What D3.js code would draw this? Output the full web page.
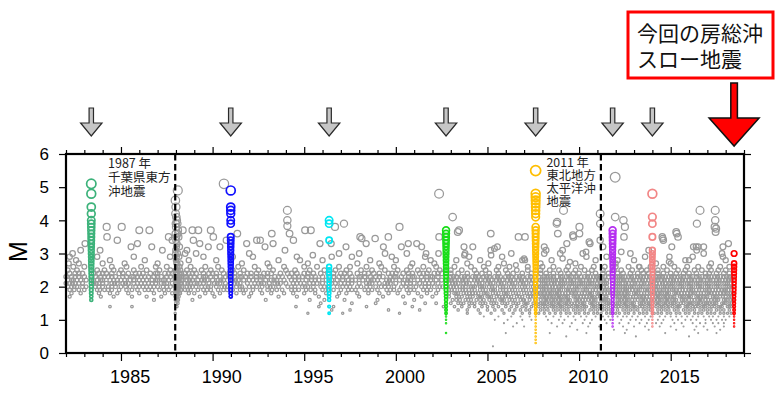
<!DOCTYPE html>
<html><head><meta charset="utf-8">
<script src="https://cdn.jsdelivr.net/npm/d3@7"></script>
<style>body{margin:0;background:#fff}svg{display:block}</style>
</head><body><svg id="c" width="780" height="399"></svg>
<script>
// ---- data ----
const sseYears = [1983.38, 1990.99, 1996.36, 2002.74, 2007.63, 2011.83, 2014.00];
const currentSSE = 2018.46;
const quakeYears = [1987.96, 2011.19];
const xTickYears = [1985, 1990, 1995, 2000, 2005, 2010, 2015];
const yTicks = [0, 1, 2, 3, 4, 5, 6];

const colYears = [1983.38, 1990.99, 1996.36, 2002.74, 2007.63, 2011.83, 2014.00, 2018.46];
const colColors = ["#3cb27a", "#1010ff", "#00e6f2", "#18dd18", "#ffbe00", "#b52ff0", "#f28686", "#ff0000"];
const colMags = [
  [5.1,4.8,4.4,4.2,4.0,3.9,3.8,3.7,3.6,3.5,3.4,3.3,3.2,3.1,3.0,2.9,2.8,2.7,2.6,2.5,2.4,2.3,2.2,2.1,2.0,1.9,1.8,1.7,1.6],
  [4.9,4.4,4.3,4.2,4.0,3.9,3.5,3.4,3.3,3.2,3.1,3.0,2.9,2.8,2.7,2.6,2.5,2.4,2.3,2.2,2.1,2.0,1.9,1.8,1.7],
  [4.0,3.9,3.4,2.6,2.5,2.4,2.3,2.2,2.1,2.0,1.9,1.8,1.7,1.6,1.4,1.2],
  [3.7,3.6,3.5,3.4,3.3,3.2,3.1,3.0,2.9,2.8,2.7,2.6,2.5,2.4,2.3,2.2,2.1,2.0,1.9,1.8,1.7,1.6,1.5,1.4,1.3,1.2,1.1,1.0,0.9,0.6],
  [5.5,4.8,4.7,4.6,4.5,4.4,4.3,4.2,4.1,3.8,3.7,3.6,3.5,3.4,3.3,3.2,3.1,3.0,2.9,2.8,2.7,2.6,2.5,2.4,2.3,2.2,2.1,2.0,1.9,1.8,1.7,1.6,1.5,1.4,1.3,1.2,1.1,1.0,0.9,0.8,0.7,0.6,0.5,0.4,0.3],
  [3.7,3.6,3.5,3.4,3.3,3.2,3.1,3.0,2.9,2.8,2.7,2.6,2.5,2.4,2.3,2.2,2.1,2.0,1.9,1.8,1.7,1.6,1.5,1.4,1.3,1.2,1.1,1.0,0.9,0.8],
  [4.8,4.1,3.9,3.5,3.1,3.0,2.9,2.8,2.7,2.6,2.5,2.4,2.3,2.2,2.1,2.0,1.9,1.8,1.7,1.6,1.5,1.4,1.3,1.2,1.1,1.0,0.9,0.8],
  [3.0,2.7,2.6,2.5,2.4,2.3,2.2,2.1,2.0,1.9,1.8,1.7,1.6,1.5,1.4,1.3,1.2,1.1,1.0,0.9,0.8]
];

// larger scattered gray events [year, M]
const grayScatter = [
  [1982.2,2.9],[1982.36,3.0],[1982.55,2.8],[1982.8,3.1],[1983.04,3.3],[1982.7,2.7],[1982.15,2.7],
  [1983.86,3.1],[1984.24,3.5],[1984.22,3.8],[1984.8,3.4],[1985.04,3.8],[1984.4,2.8],[1985.55,3.2],[1985.9,3.3],
  [1986.0,3.7],[1986.55,3.7],[1986.68,3.2],[1987.26,3.1],[1987.68,2.9],[1987.6,3.5],[1984.0,2.7],[1985.2,2.7],
  [1986.3,2.8],[1983.7,2.9],[1987.0,2.7],[1985.7,2.9],
  [1988.1,4.9],[1987.97,4.6],[1988.0,4.4],[1987.98,4.2],[1988.02,4.1],[1988.05,4.0],[1987.99,3.9],[1988.08,3.9],
  [1988.0,3.8],[1988.12,3.7],[1987.97,3.6],[1988.03,3.5],[1988.15,3.5],[1988.0,3.4],[1988.06,3.3],[1988.2,3.2],
  [1987.98,3.1],[1988.1,3.0],[1988.04,2.9],[1988.18,2.9],[1988.0,2.8],[1988.08,2.7],[1988.25,2.7],[1987.97,3.0],
  [1988.03,3.2],[1988.1,3.6],[1988.02,2.7],[1987.8,3.4],
  [1988.37,3.7],[1988.9,3.7],[1989.22,3.7],[1988.95,3.4],[1988.6,3.1],[1989.3,3.3],[1989.77,3.2],[1989.9,3.7],
  [1990.04,3.5],[1989.5,2.9],[1990.62,5.1],[1990.4,3.2],[1991.35,3.6],[1991.86,3.3],[1992.41,3.4],[1992.2,2.9],
  [1988.7,2.8],[1989.1,3.0],[1990.2,2.8],[1991.1,2.9],[1991.6,2.7],[1992.0,3.0],[1990.75,3.4],[1988.5,3.0],
  [1994.08,4.3],[1994.08,4.0],[1994.08,3.83],[1994.2,3.6],[1994.41,3.4],[1993.95,3.1],[1993.23,3.6],[1993.3,3.3],
  [1992.86,3.2],[1992.6,3.4],[1995.05,3.7],[1995.36,3.7],[1994.77,2.8],[1995.86,3.3],[1995.47,2.95],[1996.68,3.8],
  [1997.17,3.9],[1997.28,3.2],[1996.47,3.3],[1996.5,2.9],[1998.05,3.5],[1998.14,3.45],[1998.38,3.3],[1998.87,3.45],
  [1998.0,3.0],[1999.32,3.2],[1999.59,3.5],[1999.41,3.0],[1999.78,2.9],[2000.2,3.8],[2000.3,3.2],[2000.68,3.3],
  [2001.14,3.3],[2001.41,3.2],[2000.6,3.0],[2001.6,2.9],[2002.36,4.8],[2003.1,4.1],[2003.45,3.7],[2002.36,3.5],
  [2002.33,3.0],[2003.72,3.2],[2003.78,3.0],[2004.2,3.2],[2005.18,3.6],[2005.18,3.1],[2005.54,3.2],[2005.05,2.7],
  [2006.69,3.5],[1993.6,2.8],[1994.6,2.9],[1995.2,2.7],[1996.0,2.8],[1997.6,2.9],[1997.9,2.7],[1998.6,2.8],
  [1999.1,2.7],[2000.0,2.8],[2000.9,2.7],[2001.9,2.8],[2002.1,2.7],[1993.0,2.7],[1996.9,3.0],[2001.65,3.0],
  [2003.38,3.65],[2003.74,2.95],[2005.38,3.15],[2005.2,2.95],[2007.0,2.85],[2006.55,2.65],
  [2009.15,4.3],[2008.78,3.9],[2008.8,3.95],[2008.1,3.2],[2008.1,3.0],[2009.69,3.5],[2010.02,3.8],[2010.02,3.6],
  [2009.33,3.3],[2010.6,3.3],[2010.2,3.0],[2008.97,3.0],[2007.05,3.5],[2007.05,2.8],[2004.6,2.8],[2004.0,2.9],
  [2003.3,2.8],[2005.8,2.9],[2006.3,3.0],[2006.9,2.8],[2007.9,2.7],[2008.5,2.8],[2009.8,2.7],[2010.4,2.9],
  [2005.9,2.7],[2003.9,2.7],[2008.2,3.1],[2008.84,3.6],[2009.1,3.1],[2009.66,3.55],[2009.1,2.85],
  [2011.15,4.2],[2011.15,3.9],[2011.97,5.3],[2011.97,4.1],[2012.42,4.0],[2012.5,3.8],[2012.45,3.5],[2012.8,3.0],
  [2013.26,2.6],[2014.54,3.5],[2014.6,3.4],[2015.06,3.2],[2015.33,3.6],[2015.4,3.5],[2014.93,2.9],[2016.6,4.3],
  [2016.43,3.9],[2016.24,3.2],[2016.5,3.2],[2016.8,3.2],[2016.8,3.0],[2017.43,4.3],[2017.43,4.0],[2017.4,3.8],
  [2017.45,3.65],[2018.15,3.3],[2017.8,3.0],[2017.85,2.9],[2010.38,3.05],[2010.55,3.35],[2012.3,3.05],[2014.57,3.45],
  [2015.3,3.65],[2016.39,3.2],[2016.42,3.1],[2017.48,3.75],[2017.85,3.2],[2013.0,2.8],[2013.6,2.9],[2012.1,2.8],
  [2011.5,2.9],[2015.8,2.8],[2015.0,2.7],[2016.0,2.8],[2018.0,2.8],[2014.2,2.7],[2013.8,3.1],[2010.9,2.8],[2011.3,3.2],
  [2011.15,3.4],[2012.0,2.7],[2014.9,2.75],[2016.2,2.9],[2017.2,2.7],[2009.5,2.75],[2005.3,0.2]
];

// dense band: magnitudes and the years of events at each
const bandMags = [2.6,2.5,2.4,2.3,2.2,2.1,2.0,1.9,1.8,1.7,1.6,1.5,1.4,1.3,1.2,1.1,1.0,0.9,0.8,0.7,0.6,0.5];
const bandYears = [
  [1982.4,1983.0,1984.5,1985.3,1986.1,1986.9,1987.5,1988.05,1988.2,1988.8,1989.6,1990.3,1991.4,1992.3,1993.1,1993.9,1995.0,1995.7,1996.9,1997.5,1998.4,1999.2,1999.9,2000.8,2001.5,2002.2,2003.2,2004.1,2004.8,2005.6,2006.2,2007.2,2008.0,2008.6,2009.4,2010.1,2010.8,2011.4,2012.0,2012.7,2013.3,2013.9,2014.6,2015.2,2015.9,2016.5,2017.1,2017.7,2018.2],
  [1982.1,1982.6,1983.7,1984.1,1984.6,1985.0,1985.7,1986.4,1987.1,1987.7,1987.98,1988.1,1988.25,1988.6,1989.0,1989.4,1989.9,1990.5,1991.1,1991.7,1992.5,1993.3,1994.0,1994.5,1995.3,1996.1,1996.7,1997.3,1998.1,1998.7,1999.4,2000.1,2000.6,2001.2,2001.8,2002.4,2003.0,2003.6,2004.3,2004.9,2005.5,2006.0,2006.6,2007.2,2007.9,2008.4,2008.9,2009.3,2009.8,2010.3,2010.7,2011.3,2011.9,2012.3,2012.9,2013.4,2013.7,2014.3,2014.8,2015.4,2015.8,2016.3,2016.7,2017.2,2017.6,2018.0],
  [1982.2,1982.5,1982.9,1983.8,1984.2,1984.5,1984.9,1985.4,1985.8,1986.2,1986.6,1987.0,1987.4,1987.8,1987.97,1988.03,1988.1,1988.2,1988.3,1988.5,1988.7,1989.1,1989.5,1989.8,1990.2,1990.6,1991.2,1991.5,1991.9,1992.4,1992.8,1993.2,1993.7,1994.1,1994.6,1995.0,1995.5,1995.9,1996.6,1997.0,1997.5,1997.9,1998.3,1998.8,1999.1,1999.6,2000.0,2000.4,2000.9,2001.3,2001.7,2002.1,2002.5,2003.0,2003.4,2003.9,2004.4,2004.7,2005.1,2005.6,2006.1,2006.4,2006.9,2007.4,2007.9,2008.2,2008.6,2009.0,2009.4,2009.7,2010.0,2010.5,2010.9,2011.3,2011.6,2012.1,2012.4,2012.8,2013.2,2013.5,2013.8,2014.3,2014.6,2015.0,2015.3,2015.7,2016.0,2016.4,2016.9,2017.1,2017.5,2017.9,2018.2],
  [1982.0,1982.3,1982.7,1983.0,1983.6,1983.9,1984.3,1984.7,1985.1,1985.3,1985.6,1985.9,1986.3,1986.5,1986.8,1987.2,1987.5,1987.97,1988.0,1988.05,1988.12,1988.2,1988.3,1988.5,1988.8,1989.0,1989.3,1989.6,1989.9,1990.2,1990.4,1990.7,1991.2,1991.5,1991.8,1992.1,1992.4,1992.7,1993.0,1993.4,1993.8,1994.2,1994.5,1994.9,1995.2,1995.6,1996.0,1996.6,1996.9,1997.3,1997.6,1998.0,1998.3,1998.6,1998.9,1999.3,1999.7,2000.0,2000.3,2000.7,2001.0,2001.4,2001.7,2002.0,2002.3,2003.0,2003.3,2003.6,2003.9,2004.2,2004.5,2004.8,2005.1,2005.4,2005.7,2006.0,2006.3,2006.6,2006.9,2007.2,2007.8,2008.1,2008.3,2008.6,2008.8,2009.1,2009.3,2009.6,2009.8,2010.1,2010.3,2010.6,2010.8,2011.1,2011.4,2011.6,2012.0,2012.2,2012.5,2012.7,2013.0,2013.2,2013.5,2013.7,2014.2,2014.4,2014.7,2014.9,2015.2,2015.4,2015.7,2015.9,2016.2,2016.4,2016.7,2016.9,2017.2,2017.4,2017.7,2017.9,2018.2],
  [1982.1,1982.4,1982.8,1983.1,1983.7,1984.0,1984.4,1984.6,1985.0,1985.2,1985.5,1986.0,1986.4,1986.7,1987.0,1987.3,1987.6,1987.96,1987.99,1988.03,1988.08,1988.15,1988.22,1988.32,1988.6,1988.9,1989.2,1989.4,1989.7,1990.0,1990.3,1990.6,1991.1,1991.4,1991.7,1992.0,1992.2,1992.6,1992.9,1993.2,1993.5,1993.9,1994.3,1994.7,1995.1,1995.4,1995.8,1996.2,1996.8,1997.1,1997.4,1997.8,1998.2,1998.5,1998.8,1999.0,1999.5,1999.8,2000.2,2000.5,2000.8,2001.2,2001.5,2001.9,2002.2,2002.5,2002.9,2003.2,2003.5,2003.8,2004.1,2004.3,2004.6,2004.9,2005.2,2005.5,2005.8,2006.1,2006.4,2006.7,2007.0,2007.3,2007.9,2008.0,2008.2,2008.5,2008.7,2008.9,2009.2,2009.4,2009.7,2009.9,2010.2,2010.4,2010.7,2010.9,2011.2,2011.5,2012.1,2012.3,2012.6,2012.8,2013.1,2013.3,2013.6,2013.8,2014.1,2014.3,2014.5,2014.8,2015.0,2015.3,2015.5,2015.8,2016.0,2016.3,2016.5,2016.8,2017.0,2017.3,2017.5,2017.8,2018.0,2018.3],
  [1982.0,1982.2,1982.5,1982.9,1983.5,1983.8,1984.2,1984.5,1984.8,1985.1,1985.4,1985.7,1986.1,1986.5,1986.9,1987.2,1987.5,1987.8,1987.97,1988.0,1988.04,1988.1,1988.17,1988.27,1988.5,1988.8,1989.0,1989.3,1989.5,1989.8,1990.1,1990.4,1990.7,1991.2,1991.5,1991.9,1992.3,1992.5,1992.8,1993.1,1993.4,1993.7,1994.0,1994.4,1994.8,1995.0,1995.3,1995.7,1996.0,1996.7,1997.0,1997.2,1997.6,1998.0,1998.4,1998.7,1999.1,1999.4,1999.7,2000.0,2000.4,2000.6,2001.0,2001.3,2001.6,2002.0,2002.3,2002.9,2003.1,2003.4,2003.7,2004.0,2004.4,2004.7,2005.0,2005.3,2005.6,2005.9,2006.2,2006.5,2006.8,2007.1,2007.4,2007.8,2008.1,2008.3,2008.5,2008.8,2009.0,2009.2,2009.5,2009.7,2010.0,2010.2,2010.5,2010.7,2011.0,2011.3,2011.5,2012.0,2012.2,2012.4,2012.7,2012.9,2013.2,2013.4,2013.7,2013.9,2014.2,2014.4,2014.7,2014.9,2015.1,2015.4,2015.6,2015.9,2016.1,2016.4,2016.6,2016.9,2017.1,2017.4,2017.6,2017.9,2018.1,2018.3],
  [1982.1,1982.3,1982.6,1983.1,1983.6,1984.0,1984.3,1984.7,1985.0,1985.5,1985.8,1986.2,1986.6,1987.0,1987.3,1987.7,1987.96,1987.99,1988.02,1988.06,1988.11,1988.16,1988.23,1988.33,1988.6,1988.9,1989.1,1989.4,1989.6,1989.9,1990.2,1990.5,1990.8,1991.3,1991.6,1992.0,1992.4,1992.7,1993.0,1993.3,1993.6,1994.1,1994.5,1994.9,1995.2,1995.5,1995.9,1996.3,1996.8,1997.1,1997.5,1997.9,1998.1,1998.6,1998.9,1999.2,1999.6,1999.9,2000.3,2000.8,2001.1,2001.4,2001.8,2002.1,2002.4,2003.0,2003.3,2003.5,2003.8,2004.1,2004.3,2004.6,2004.8,2005.1,2005.4,2005.7,2006.0,2006.3,2006.6,2006.9,2007.2,2007.5,2007.9,2008.0,2008.2,2008.4,2008.7,2008.9,2009.1,2009.3,2009.6,2009.8,2010.0,2010.3,2010.5,2010.8,2011.0,2011.2,2011.5,2012.0,2012.2,2012.4,2012.6,2012.8,2013.0,2013.3,2013.5,2013.8,2014.1,2014.3,2014.6,2014.8,2015.0,2015.2,2015.5,2015.7,2016.0,2016.2,2016.5,2016.7,2017.0,2017.2,2017.5,2017.7,2018.0,2018.2],
  [1982.2,1982.7,1983.0,1983.7,1984.1,1984.5,1984.9,1985.3,1985.9,1986.3,1986.7,1987.1,1987.6,1987.97,1988.01,1988.05,1988.1,1988.18,1988.28,1988.5,1988.8,1989.2,1989.5,1989.9,1990.3,1990.6,1991.1,1991.5,1991.8,1992.2,1992.6,1993.0,1993.5,1993.8,1994.3,1994.7,1995.1,1995.6,1996.0,1996.6,1997.0,1997.4,1997.8,1998.3,1998.7,1999.0,1999.5,1999.9,2000.2,2000.6,2001.0,2001.5,2001.9,2002.3,2002.9,2003.2,2003.5,2003.8,2004.0,2004.3,2004.6,2004.9,2005.2,2005.4,2005.7,2006.0,2006.2,2006.5,2006.8,2007.1,2007.4,2007.8,2008.0,2008.2,2008.4,2008.6,2008.8,2009.0,2009.3,2009.5,2009.7,2009.9,2010.2,2010.4,2010.6,2010.9,2011.1,2011.4,2011.6,2012.0,2012.2,2012.4,2012.6,2012.9,2013.1,2013.3,2013.6,2013.8,2014.2,2014.4,2014.6,2014.8,2015.1,2015.3,2015.5,2015.8,2016.0,2016.2,2016.4,2016.7,2016.9,2017.1,2017.3,2017.6,2017.8,2018.0,2018.3],
  [1982.3,1982.8,1983.8,1984.4,1984.8,1985.4,1986.0,1986.8,1987.4,1987.8,1987.98,1988.03,1988.08,1988.14,1988.22,1988.7,1989.0,1989.6,1990.0,1990.4,1991.3,1991.7,1992.1,1992.7,1993.2,1993.9,1994.4,1995.0,1995.6,1996.2,1996.9,1997.3,1997.9,1998.5,1999.1,1999.6,2000.1,2000.7,2001.2,2001.7,2002.2,2002.9,2003.2,2003.4,2003.7,2004.0,2004.2,2004.5,2004.8,2005.0,2005.3,2005.6,2005.9,2006.1,2006.4,2006.7,2007.0,2007.3,2007.5,2007.9,2008.1,2008.3,2008.5,2008.7,2008.9,2009.1,2009.4,2009.6,2009.8,2010.0,2010.3,2010.5,2010.7,2011.0,2011.2,2011.4,2011.7,2012.0,2012.1,2012.3,2012.5,2012.7,2013.0,2013.2,2013.4,2013.7,2013.9,2014.1,2014.3,2014.5,2014.7,2014.9,2015.2,2015.4,2015.6,2015.9,2016.1,2016.3,2016.5,2016.8,2017.0,2017.2,2017.4,2017.7,2017.9,2018.1,2018.3],
  [1982.2,1983.9,1984.6,1985.6,1986.4,1987.2,1987.97,1988.02,1988.07,1988.15,1989.3,1990.1,1991.0,1992.0,1993.6,1994.6,1995.8,1996.8,1998.0,1999.3,2000.4,2001.4,2002.0,2002.9,2003.3,2003.6,2003.9,2004.2,2004.5,2004.7,2005.0,2005.2,2005.5,2005.8,2006.0,2006.3,2006.6,2006.9,2007.2,2007.5,2007.8,2008.0,2008.2,2008.4,2008.6,2008.8,2009.0,2009.2,2009.4,2009.7,2009.9,2010.1,2010.4,2010.6,2010.8,2011.0,2011.3,2011.5,2012.0,2012.2,2012.4,2012.6,2012.8,2013.1,2013.3,2013.5,2013.7,2014.2,2014.4,2014.6,2014.8,2015.0,2015.2,2015.5,2015.7,2015.9,2016.1,2016.4,2016.6,2016.8,2017.0,2017.3,2017.5,2017.7,2018.0,2018.2],
  [1986.8,1987.98,1988.05,1988.12,1988.9,1992.9,1995.3,1996.1,1997.2,1999.0,2001.0,2003.1,2003.5,2003.8,2004.1,2004.4,2004.8,2005.1,2005.4,2005.7,2005.9,2006.2,2006.5,2006.8,2007.0,2007.3,2007.9,2008.1,2008.3,2008.5,2008.7,2008.9,2009.1,2009.3,2009.5,2009.8,2010.0,2010.2,2010.5,2010.7,2010.9,2011.2,2011.4,2011.6,2012.1,2012.3,2012.5,2012.7,2012.9,2013.2,2013.4,2013.6,2013.8,2014.1,2014.3,2014.5,2014.7,2014.9,2015.1,2015.3,2015.6,2015.8,2016.0,2016.3,2016.5,2016.7,2016.9,2017.2,2017.4,2017.6,2017.9,2018.1,2018.3],
  [1988.0,1988.1,1995.9,1997.6,1998.9,2000.5,2001.6,2002.2,2003.0,2003.4,2003.7,2004.0,2004.3,2004.6,2004.9,2005.2,2005.5,2005.8,2006.1,2006.4,2006.7,2007.0,2007.2,2007.5,2007.9,2008.0,2008.2,2008.4,2008.6,2008.8,2009.0,2009.2,2009.4,2009.6,2009.9,2010.1,2010.3,2010.6,2010.8,2011.0,2011.3,2011.5,2011.7,2012.0,2012.2,2012.4,2012.6,2012.8,2013.0,2013.3,2013.5,2013.7,2013.9,2014.2,2014.4,2014.6,2014.8,2015.0,2015.2,2015.4,2015.7,2015.9,2016.1,2016.2,2016.4,2016.6,2016.8,2017.0,2017.1,2017.3,2017.5,2017.8,2018.0,2018.2],
  [1984.4,1985.6,1988.05,1994.55,1995.8,1996.6,1998.4,2000.9,2002.6,2003.2,2003.6,2004.0,2004.3,2004.7,2005.0,2005.3,2005.6,2006.0,2006.3,2006.6,2006.9,2007.1,2007.4,2007.8,2008.0,2008.3,2008.5,2008.7,2008.9,2009.1,2009.3,2009.6,2009.8,2010.0,2010.2,2010.4,2010.7,2010.9,2011.1,2011.4,2011.6,2012.0,2012.3,2012.5,2012.7,2012.9,2013.1,2013.3,2013.6,2013.8,2014.2,2014.4,2014.6,2014.8,2015.1,2015.3,2015.5,2015.8,2016.0,2016.2,2016.5,2016.7,2016.9,2017.1,2017.4,2017.6,2017.8,2018.1,2018.3],
  [1996.5,1997.5,1999.6,2001.3,2003.4,2003.9,2004.5,2005.0,2005.4,2005.8,2006.2,2006.5,2006.8,2007.1,2007.3,2007.9,2008.1,2008.3,2008.6,2008.8,2009.0,2009.2,2009.4,2009.7,2009.9,2010.1,2010.3,2010.6,2010.8,2011.0,2011.3,2011.5,2011.7,2012.1,2012.4,2012.6,2012.8,2013.0,2013.2,2013.5,2013.7,2013.9,2014.3,2014.5,2014.7,2014.9,2015.2,2015.4,2015.7,2015.9,2016.1,2016.3,2016.6,2016.8,2017.0,2017.2,2017.5,2017.7,2017.9,2018.2],
  [1987.96,1995.2,1997.1,2000.2,2003.9,2004.6,2005.2,2005.9,2006.4,2006.9,2007.3,2007.8,2008.1,2008.4,2008.7,2009.0,2009.3,2009.5,2009.8,2010.0,2010.3,2010.5,2010.8,2011.0,2011.2,2011.5,2011.7,2012.0,2012.2,2012.5,2012.7,2013.0,2013.3,2013.5,2013.7,2014.1,2014.3,2014.5,2014.8,2015.0,2015.3,2015.5,2015.8,2016.0,2016.3,2016.5,2016.7,2017.0,2017.2,2017.4,2017.7,2017.9,2018.1,2018.3],
  [2004.8,2005.6,2006.3,2006.8,2007.3,2008.2,2008.6,2009.0,2009.4,2009.7,2010.1,2010.4,2010.9,2011.3,2011.6,2012.1,2012.4,2012.6,2012.9,2013.2,2013.6,2013.9,2014.4,2014.7,2015.0,2015.3,2015.6,2015.9,2016.2,2016.5,2016.8,2017.1,2017.3,2017.6,2017.9,2018.2],
  [2005.4,2006.1,2006.9,2007.4,2008.3,2008.9,2009.2,2009.8,2010.3,2010.7,2011.4,2011.7,2012.3,2012.8,2013.1,2013.4,2013.8,2014.3,2014.6,2015.1,2015.4,2015.8,2016.1,2016.4,2016.9,2017.2,2017.5,2017.8,2018.0],
  [2005.9,2006.6,2008.5,2009.1,2009.6,2010.2,2010.6,2011.5,2012.2,2012.7,2013.3,2013.7,2014.2,2014.5,2015.2,2015.6,2016.2,2016.6,2016.9,2017.3,2017.6,2017.9],
  [2006.4,2007.0,2008.8,2009.5,2010.5,2011.1,2012.4,2013.0,2013.6,2014.4,2015.0,2015.7,2016.4,2016.8,2017.4,2017.9],
  [2009.9,2011.9,2012.6,2013.8,2015.3,2016.3,2017.0,2017.7],
  [2006.0,2008.4,2010.4,2012.5,2014.7,2016.5,2017.5],
  [2009.3,2013.1,2016.0]
];

// further band events (same magnitudes listed in bandExtraMags)
const bandExtraMags = [2.4,2.3,2.2,2.1,2.0,1.9,1.8,1.7,1.6,1.5,1.4];
const bandExtraYears = [
  [1982.7,1983.5,1984.0,1985.1,1986.0,1986.9,1987.6,1988.9,1990.0,1990.9,1992.1,1993.0,1994.3,1995.2,1996.3,1997.2,1998.5,1999.8,2000.7,2001.5,2002.3],
  [1982.5,1983.4,1984.1,1984.5,1985.7,1986.1,1987.0,1987.7,1988.6,1989.5,1990.9,1991.6,1992.6,1993.6,1994.7,1995.4,1996.4,1997.1,1998.1,1999.1,1999.9,2000.9,2001.9,
   2003.15,2003.75,2004.35,2004.95,2005.55,2006.15,2006.75,2007.35,2008.2,2008.45,2009.0,2009.45,2009.9,2010.45,2010.95,2011.25,2012.1,2012.35,2012.85,2013.35,2013.85,2014.3,2014.55,2015.05,2015.55,2016.05,2016.55,2017.05,2017.55,2018.05,2018.35],
  [1982.3,1982.6,1983.5,1983.9,1984.8,1985.7,1986.2,1986.9,1987.4,1988.75,1989.55,1990.45,1991.25,1992.4,1993.35,1994.5,1995.6,1996.5,1997.6,1998.65,1999.65,2000.65,2001.7,
   2003.05,2003.65,2004.45,2005.05,2005.65,2006.25,2006.85,2007.45,2008.1,2008.6,2009.05,2009.55,2010.05,2010.55,2011.05,2011.35,2012.2,2012.45,2012.95,2013.45,2013.95,2014.2,2014.65,2015.15,2015.65,2016.15,2016.65,2017.15,2017.65,2018.15],
  [1982.35,1982.7,1983.65,1984.0,1984.65,1985.25,1985.9,1986.3,1986.7,1987.35,1988.65,1989.15,1990.25,1991.35,1992.65,1993.55,1994.6,1995.5,1996.5,1997.4,1998.55,1999.55,2000.8,2001.8,
   2003.25,2003.85,2004.55,2005.15,2005.75,2006.35,2006.95,2007.6,2008.2,2008.65,2009.1,2009.6,2010.1,2010.6,2011.15,2011.4,2012.1,2012.55,2013.05,2013.55,2014.05,2014.55,2015.0,2015.5,2016.0,2016.5,2017.0,2017.5,2018.0],
  [1982.45,1982.9,1983.8,1984.5,1985.25,1986.0,1986.4,1986.8,1987.5,1988.75,1989.75,1990.65,1991.5,1992.2,1993.15,1994.3,1995.05,1996.1,1997.3,1998.4,1999.4,2000.55,2001.6,2002.55,
   2003.15,2003.65,2004.2,2004.7,2005.25,2005.85,2006.45,2007.05,2007.7,2008.1,2008.55,2009.0,2009.45,2009.9,2010.4,2010.9,2011.35,2012.1,2012.5,2012.9,2013.4,2013.9,2014.2,2014.7,2015.1,2015.6,2016.1,2016.6,2017.1,2017.6,2018.1,2018.35],
  [1982.45,1983.85,1984.3,1985.6,1986.5,1987.35,1988.65,1989.7,1990.8,1991.65,1993.25,1994.5,1995.35,1996.3,1997.6,1998.5,1999.7,2000.8,2001.7,
   2003.05,2003.65,2004.15,2004.75,2005.3,2005.85,2006.35,2006.95,2007.55,2008.1,2008.5,2008.9,2009.4,2009.8,2010.3,2010.75,2011.25,2011.5,2012.1,2012.5,2012.75,2013.2,2013.7,2014.1,2014.5,2014.9,2015.2,2015.65,2016.1,2016.55,2017.0,2017.45,2017.9,2018.15],
  [2003.3,2003.85,2004.35,2004.9,2005.45,2006.0,2006.55,2007.15,2007.7,2008.0,2008.4,2008.8,2009.25,2009.7,2010.15,2010.6,2011.1,2011.55,2012.2,2012.6,2013.1,2013.55,2014.0,2014.4,2014.8,2015.3,2015.75,2016.2,2016.65,2017.1,2017.55,2018.0,2018.4],
  [2003.45,2004.05,2004.6,2005.1,2005.65,2006.15,2006.75,2007.35,2008.1,2008.5,2008.9,2009.3,2009.8,2010.25,2010.7,2011.15,2011.45,2012.1,2012.5,2012.95,2013.4,2013.85,2014.3,2014.7,2015.1,2015.6,2016.0,2016.5,2016.9,2017.4,2017.85,2018.3],
  [2003.3,2003.95,2004.6,2005.25,2005.8,2006.35,2006.95,2007.6,2008.2,2008.6,2009.0,2009.4,2009.9,2010.35,2010.8,2011.3,2011.5,2012.2,2012.6,2013.05,2013.5,2013.95,2014.4,2014.8,2015.2,2015.7,2016.15,2016.6,2017.05,2017.5,2018.0,2018.4],
  [2003.55,2004.15,2004.75,2005.35,2005.95,2006.55,2007.1,2007.7,2008.1,2008.5,2008.9,2009.3,2009.75,2010.2,2010.7,2011.15,2011.6,2012.1,2012.5,2012.9,2013.4,2013.8,2014.3,2014.7,2015.1,2015.55,2016.0,2016.5,2016.9,2017.4,2017.9,2018.3],
  [2008.15,2008.6,2009.0,2009.45,2009.9,2010.3,2010.8,2011.25,2012.15,2012.6,2013.0,2013.45,2013.9,2014.5,2014.9,2015.4,2015.9,2016.35,2016.8,2017.25,2017.7,2018.2]
];

// ---- layout ----
const svg = d3.select("#c");
const W = 780, H = 399;
const pL = 66, pR = 744, pT = 154, pB = 353;
const x = d3.scaleLinear().domain([1982, 2019]).range([pL, pR]);
const y = d3.scaleLinear().domain([0, 6]).range([pB, pT]);
const rBig = d3.scaleLinear().domain([2, 5.3]).range([1.85, 4.85]);
const rad = m => m >= 1.2 ? rBig(m) : 0.42;
const isDot = m => m < 1.2;

svg.append("rect").attr("width", W).attr("height", H).attr("fill", "#fff");

// gray events
const gray = [];
bandMags.forEach((m, i) => bandYears[i].forEach(t => gray.push([t, m])));
bandExtraMags.forEach((m, i) => bandExtraYears[i].forEach(t => gray.push([t, m])));
grayScatter.forEach(d => gray.push(d));

svg.append("g").selectAll("circle").data(gray).join("circle")
  .attr("cx", d => x(d[0])).attr("cy", d => y(d[1]))
  .attr("r", d => rad(d[1]))
  .attr("fill", d => isDot(d[1]) ? "#909090" : "none")
  .attr("stroke", "#999").attr("stroke-width", 1.25);

// SSE colored columns
colYears.forEach((t, i) => {
  svg.append("g").selectAll("circle").data(colMags[i]).join("circle")
    .attr("cx", x(t)).attr("cy", m => y(m))
    .attr("r", m => rad(m))
    .attr("fill", m => isDot(m) ? colColors[i] : "none")
    .attr("stroke", colColors[i]).attr("stroke-width", 1.7);
});

// dashed lines for large earthquakes
svg.selectAll("line.q").data(quakeYears).join("line")
  .attr("class", "q")
  .attr("x1", d => x(d)).attr("x2", d => x(d))
  .attr("y1", pT).attr("y2", pB)
  .attr("stroke", "#000").attr("stroke-width", 2.2).attr("stroke-dasharray", "6.5,3.5");

// frame
svg.append("rect").attr("x", pL).attr("y", pT)
  .attr("width", pR - pL).attr("height", pB - pT)
  .attr("fill", "none").attr("stroke", "#000").attr("stroke-width", 2.2);

// axes ticks
const allYears = d3.range(1982, 2020);
const minorYears = allYears.filter(v => v % 5 !== 0);
function tickAxis(gen, vals, size, tr) {
  const g = svg.append("g").attr("transform", tr)
    .call(gen.tickValues(vals).tickSize(size).tickSizeOuter(0).tickFormat(""));
  g.select(".domain").remove();
  g.selectAll(".tick line").attr("stroke", "#000").attr("stroke-width", 1.2);
  return g;
}
tickAxis(d3.axisBottom(x), minorYears, 4, `translate(0,${pB})`);
tickAxis(d3.axisBottom(x), xTickYears, 8, `translate(0,${pB})`);
tickAxis(d3.axisTop(x), minorYears, 4, `translate(0,${pT})`);
tickAxis(d3.axisTop(x), xTickYears, 7, `translate(0,${pT})`);
tickAxis(d3.axisLeft(y), yTicks, 7, `translate(${pL},0)`);
tickAxis(d3.axisRight(y), yTicks, 7, `translate(${pR},0)`);

// tick labels
svg.append("g").selectAll("text").data(xTickYears).join("text")
  .attr("x", d => x(d + 0.5)).attr("y", 383)
  .attr("text-anchor", "middle")
  .attr("font-family", "'Liberation Sans', Arial, sans-serif").attr("font-size", 18)
  .attr("fill", "#000").text(d => d);
svg.append("g").selectAll("text").data(yTicks).join("text")
  .attr("x", 49).attr("y", d => y(d) + 6.2)
  .attr("text-anchor", "end")
  .attr("font-family", "'Liberation Sans', Arial, sans-serif").attr("font-size", 17)
  .attr("fill", "#000").text(d => d);
svg.append("text").attr("transform", "translate(26.5,251.5) rotate(-90)")
  .attr("text-anchor", "middle")
  .attr("font-family", "'Liberation Sans', Arial, sans-serif").attr("font-size", 25)
  .attr("fill", "#000").text("M");

// annotations
const jp = "'Noto Sans CJK JP', 'Noto Sans CJK SC', sans-serif";
function multi(lines, x0, y0, dy, fs) {
  lines.forEach((s, i) => svg.append("text").attr("font-family", jp).attr("font-size", fs)
    .attr("fill", "#222").attr("x", x0).attr("y", y0 + i * dy).text(s));
}
multi(["1987 年", "千葉県東方", "沖地震"], 108, 167.5, 14.3, 12.5);
multi(["2011 年", "東北地方", "太平洋沖", "地震"], 546.5, 167, 13, 12.3);

// gray arrows for previous slow slip events
const arrow = (cx, sw, t0, t1, hw, tip) =>
  `M${cx - sw},${t0}L${cx + sw},${t0}L${cx + sw},${t1}L${cx + hw},${t1}L${cx},${tip}L${cx - hw},${t1}L${cx - sw},${t1}Z`;
svg.append("g").selectAll("path").data(sseYears).join("path")
  .attr("d", d => arrow(x(d), 2.2, 108, 123, 10.7, 136))
  .attr("fill", "#c6c6c6").attr("stroke", "#2a2a2a").attr("stroke-width", 1.2);

// red arrow + box for current event
svg.append("path").attr("d", arrow(x(currentSSE), 3.3, 83, 118, 25, 146))
  .attr("fill", "#ff0000").attr("stroke", "#111").attr("stroke-width", 1.5);
svg.append("rect").attr("x", 628).attr("y", 12).attr("width", 145).attr("height", 66)
  .attr("fill", "#fff").attr("stroke", "#ff0000").attr("stroke-width", 3);
svg.append("text").attr("font-family", jp).attr("font-size", 21).attr("fill", "#111")
  .attr("x", 637).attr("y", 40.5).text("今回の房総沖");
svg.append("text").attr("font-family", jp).attr("font-size", 21).attr("fill", "#111")
  .attr("x", 637).attr("y", 67).text("スロー地震");
</script></body></html>
